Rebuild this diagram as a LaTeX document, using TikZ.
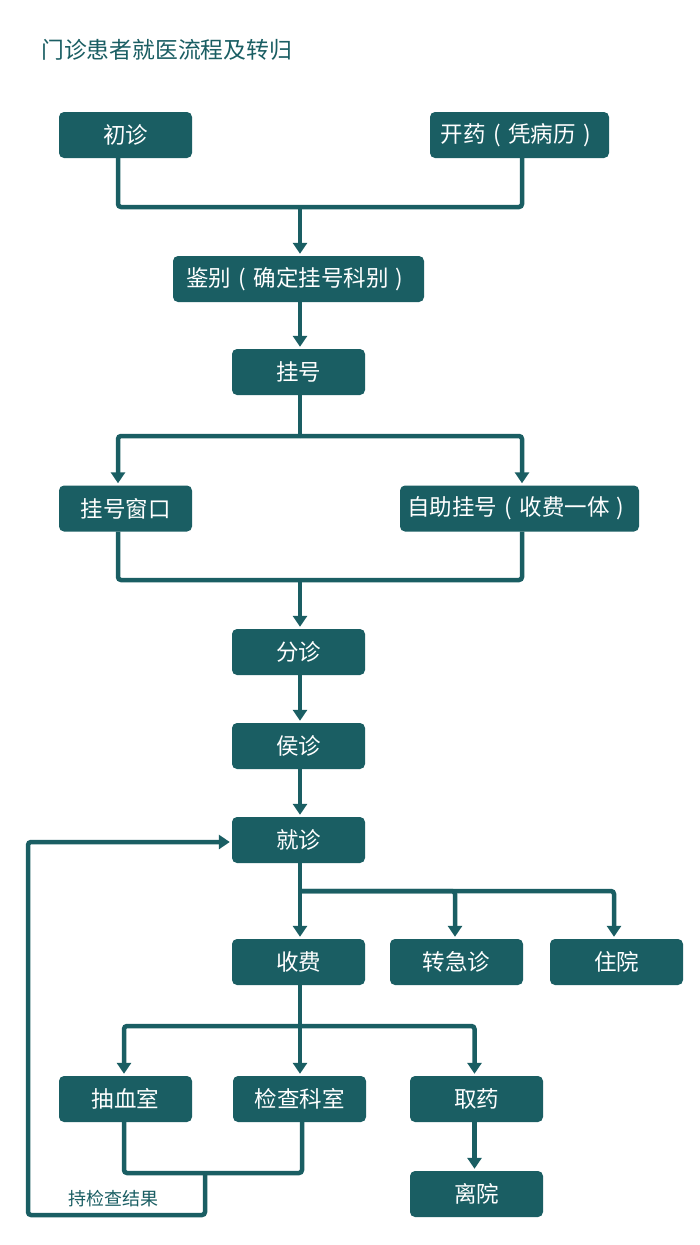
\documentclass[tikz,border=0pt]{standalone}
\usepackage{fontspec}
\newfontfamily\cjk{Noto Sans CJK SC}
\newcommand\lp{\makebox[1em]{(}}
\newcommand\rp{\makebox[1em]{)}}
\usetikzlibrary{arrows.meta,calc}
\definecolor{teal}{HTML}{1A5E63}
\begin{document}
\begin{tikzpicture}[x=1pt,y=-1pt,
  box/.style={fill=teal,rounded corners=5pt,minimum height=46pt,minimum width=133pt,
    text=white,font=\cjk\fontsize{22.5pt}{24pt}\selectfont,inner sep=0pt},
  line/.style={draw=teal,line width=4.5pt,rounded corners=3pt},
  arr/.style={line,-{Triangle[width=14pt,length=11pt]},shorten >=2pt}]
\useasboundingbox[fill=white] (0,0) rectangle (700,1245);
\node[anchor=west,text=teal,font=\cjk\fontsize{22.8pt}{24pt}\selectfont,inner sep=0pt] (title) at (41,50) {门诊患者就医流程及转归};
% nodes
\node[box] (chuzhen) at (125.5,135) {初诊};
\node[box,minimum width=179pt] (kaiyao) at (519.5,135) {开药\lp 凭病历\rp};
\node[box,minimum width=251pt] (jianbie) at (298.5,279) {鉴别\lp 确定挂号科别\rp};
\node[box] (guahao) at (298.5,372) {挂号};
\node[box] (chuangkou) at (125.5,508.5) {挂号窗口};
\node[box,minimum width=239pt] (zizhu) at (519.5,508.5) {自助挂号\lp 收费一体\rp};
\node[box] (fenzhen) at (298.5,652) {分诊};
\node[box] (houzhen) at (298.5,746) {侯诊};
\node[box] (jiuzhen) at (298.5,840) {就诊};
\node[box] (shoufei) at (298.5,962) {收费};
\node[box] (jizhen) at (456.5,962) {转急诊};
\node[box] (zhuyuan) at (616.5,962) {住院};
\node[box] (chouxue) at (125.5,1099) {抽血室};
\node[box] (jiancha) at (299.5,1099) {检查科室};
\node[box] (quyao) at (476.5,1099) {取药};
\node[box] (liyuan) at (476.5,1194) {离院};
\node[text=teal,font=\cjk\fontsize{18pt}{19pt}\selectfont,inner sep=0pt] (result) at (113.5,1199) {持检查结果};
% junctions
\coordinate (m1) at (300,207);
\coordinate (m2) at (300,436);
\coordinate (m3) at (300,580);
\coordinate (m4) at (300,891);
\coordinate (m5) at (300,1026);
\coordinate (m6) at (205,1173);
\coordinate (m7) at (28,1215);
% connectors
\draw[line] ([xshift=-7.5pt]chuzhen.south) |- (m1) -| ([xshift=2.5pt]kaiyao.south);
\draw[arr] (m1) -- ([xshift=1.5pt]jianbie.north);
\draw[arr] ([xshift=1.5pt]jianbie.south) -- ([xshift=1.5pt]guahao.north);
\draw[line] ([xshift=1.5pt]guahao.south) -- (m2);
\draw[arr] (m2) -| ([xshift=-7.5pt]chuangkou.north);
\draw[arr] (m2) -| ([xshift=2.5pt]zizhu.north);
\draw[line] ([xshift=-7.5pt]chuangkou.south) |- (m3) -| ([xshift=2.5pt]zizhu.south);
\draw[arr] (m3) -- ([xshift=1.5pt]fenzhen.north);
\draw[arr] ([xshift=1.5pt]fenzhen.south) -- ([xshift=1.5pt]houzhen.north);
\draw[arr] ([xshift=1.5pt]houzhen.south) -- ([xshift=1.5pt]jiuzhen.north);
\draw[line] ([xshift=1.5pt]jiuzhen.south) -- (m4);
\draw[arr] (m4) -- ([xshift=1.5pt]shoufei.north);
\draw[arr] (m4) -| ([xshift=-1.5pt]jizhen.north);
\draw[arr] (m4) -| ([xshift=-2.5pt]zhuyuan.north);
\draw[line] ([xshift=1.5pt]shoufei.south) -- (m5);
\draw[arr] (m5) -| ([xshift=-1.5pt]chouxue.north);
\draw[arr] (m5) -- ([xshift=0.5pt]jiancha.north);
\draw[arr] (m5) -| ([xshift=-2pt]quyao.north);
\draw[arr] ([xshift=-2pt]quyao.south) -- ([xshift=-2pt]liyuan.north);
\draw[line] ([xshift=-1.5pt]chouxue.south) |- (m6) -| ([xshift=2.5pt]jiancha.south);
\draw[arr] (m6) |- (m7) |- ([yshift=-2pt]jiuzhen.west);
\end{tikzpicture}
\end{document}
